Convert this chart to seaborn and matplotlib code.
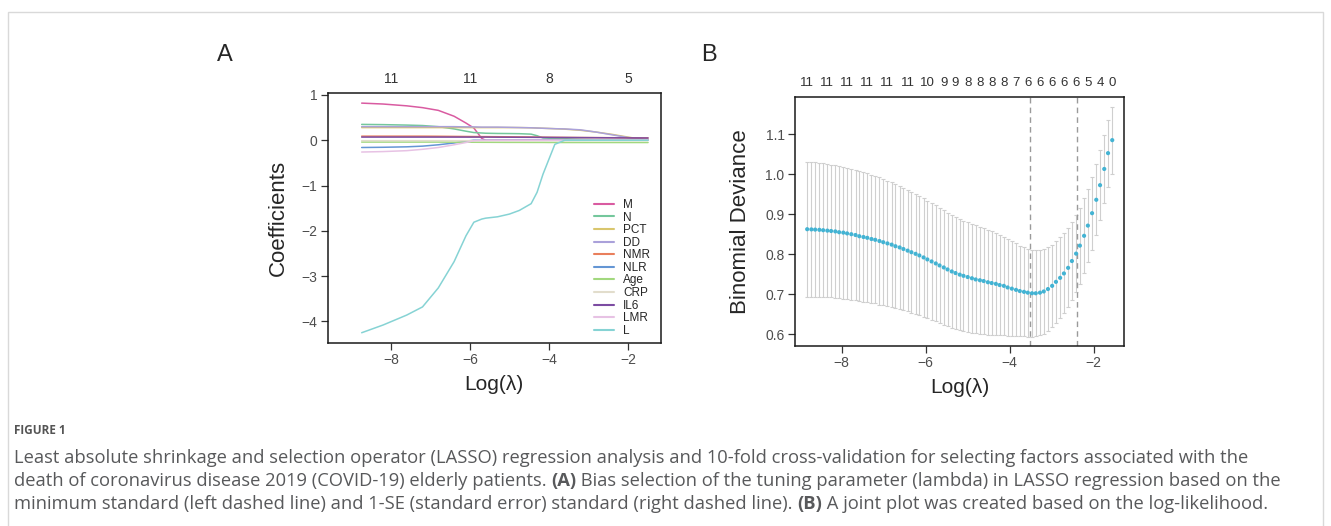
import numpy as np
import pandas as pd
import matplotlib
matplotlib.use("Agg")
import matplotlib.pyplot as plt
import seaborn as sns
from matplotlib.patches import Rectangle

# ---------------- panel A: LASSO coefficient paths ----------------
path_loglambda = [-8.74, -8.2, -7.6, -7.2, -6.8, -6.4, -6.1, -5.9, -5.7, -5.6,
                  -5.3, -5.0, -4.75, -4.45, -4.3, -4.15, -4.0, -3.85, -3.6,
                  -3.2, -2.8, -2.4, -2.0, -1.49]
coef_M = [0.82, 0.80, 0.76, 0.72, 0.66, 0.53, 0.38, 0.27, 0.04, 0.0,
          0.0, 0.0, 0.0, 0.0, 0.0, 0.0, 0.0, 0.0, 0.0, 0.0, 0.0, 0.0, 0.0, 0.0]
coef_N = [0.35, 0.345, 0.335, 0.325, 0.30, 0.25, 0.20, 0.17, 0.16, 0.155,
          0.15, 0.148, 0.145, 0.135, 0.10, 0.05, 0.045, 0.04, 0.035,
          0.02, 0.01, 0.0, 0.0, 0.0]
coef_PCT = [0.28, 0.28, 0.28, 0.28, 0.28, 0.28, 0.28, 0.28, 0.28, 0.28,
            0.28, 0.28, 0.28, 0.275, 0.27, 0.265, 0.26, 0.255, 0.245,
            0.22, 0.18, 0.13, 0.07, 0.0]
coef_DD = [0.30, 0.30, 0.30, 0.30, 0.30, 0.30, 0.295, 0.295, 0.29, 0.29,
           0.29, 0.285, 0.28, 0.275, 0.27, 0.265, 0.26, 0.255, 0.25,
           0.23, 0.18, 0.12, 0.06, 0.015]
coef_NMR = [0.09, 0.09, 0.09, 0.09, 0.088, 0.085, 0.083, 0.082, 0.08, 0.08,
            0.078, 0.076, 0.074, 0.072, 0.07, 0.068, 0.066, 0.065, 0.063,
            0.06, 0.058, 0.056, 0.054, 0.05]
coef_NLR = [-0.16, -0.155, -0.145, -0.13, -0.10, -0.06, -0.02, 0.0, 0.0, 0.0,
            0.0, 0.0, 0.0, 0.0, 0.0, 0.0, 0.0, 0.0, 0.0, 0.0, 0.0, 0.0, 0.0, 0.0]
coef_Age = [-0.04, -0.04, -0.04, -0.04, -0.04, -0.042, -0.043, -0.044, -0.045,
            -0.045, -0.046, -0.047, -0.047, -0.048, -0.048, -0.048, -0.049,
            -0.049, -0.05, -0.05, -0.05, -0.05, -0.05, -0.05]
coef_CRP = [-0.01, -0.01, -0.01, -0.01, -0.01, -0.01, -0.01, -0.01, -0.01,
            -0.01, -0.01, -0.01, -0.01, -0.01, -0.01, -0.01, -0.01, -0.008,
            -0.006, -0.003, 0.0, 0.0, 0.0, 0.0]
coef_IL6 = [0.07, 0.07, 0.07, 0.07, 0.07, 0.07, 0.07, 0.07, 0.07, 0.07,
            0.068, 0.067, 0.066, 0.065, 0.064, 0.063, 0.062, 0.061, 0.06,
            0.058, 0.056, 0.054, 0.052, 0.05]
coef_LMR = [-0.26, -0.25, -0.23, -0.20, -0.16, -0.10, -0.05, -0.01, 0.0, 0.0,
            0.0, 0.0, 0.0, 0.0, 0.0, 0.0, 0.0, 0.0, 0.0, 0.0, 0.0, 0.0, 0.0, 0.0]
coef_L = [-4.25, -4.08, -3.86, -3.68, -3.26, -2.68, -2.11, -1.81, -1.74, -1.72,
          -1.69, -1.63, -1.55, -1.40, -1.15, -0.75, -0.42, -0.09, 0.0,
          0.0, 0.0, 0.0, 0.0, 0.0]

var_names = ["M", "N", "PCT", "DD", "NMR", "NLR", "Age", "CRP", "IL6", "LMR", "L"]
var_colors = ["#d95ba1", "#74c79c", "#d9c66d", "#aaa1da", "#e97f5c", "#6496d4",
              "#a2d87e", "#e2ddcc", "#7c4ca2", "#e7c2e4", "#86d3d4"]
top_ticks_A = [-8, -6, -4, -2]
top_labels_A = ["11", "11", "8", "5"]

# ---------------- panel B: 10-fold CV binomial deviance ----------------
cv_loglambda = [-8.82, -8.72, -8.63, -8.53, -8.44, -8.34, -8.25, -8.15, -8.06, -7.96,
                -7.87, -7.77, -7.67, -7.58, -7.48, -7.39, -7.29, -7.20, -7.10, -7.01,
                -6.91, -6.81, -6.72, -6.62, -6.53, -6.43, -6.34, -6.24, -6.15, -6.05,
                -5.96, -5.86, -5.76, -5.67, -5.57, -5.48, -5.38, -5.29, -5.19, -5.10,
                -5.00, -4.90, -4.81, -4.71, -4.62, -4.52, -4.43, -4.33, -4.24, -4.14,
                -4.05, -3.95, -3.85, -3.76, -3.66, -3.57, -3.47, -3.38, -3.28, -3.19,
                -3.09, -2.99, -2.90, -2.80, -2.71, -2.61, -2.52, -2.42, -2.33, -2.23,
                -2.14, -2.04, -1.94, -1.85, -1.75, -1.66, -1.56]
cv_mean = [0.8625, 0.862, 0.8615, 0.861, 0.860, 0.859, 0.858, 0.857, 0.855, 0.854,
           0.852, 0.850, 0.848, 0.845, 0.843, 0.841, 0.838, 0.836, 0.833, 0.830,
           0.827, 0.824, 0.820, 0.817, 0.813, 0.809, 0.805, 0.801, 0.797, 0.792,
           0.787, 0.782, 0.777, 0.772, 0.767, 0.762, 0.757, 0.753, 0.749, 0.746,
           0.743, 0.740, 0.737, 0.735, 0.733, 0.730, 0.728, 0.726, 0.723, 0.721,
           0.717, 0.714, 0.711, 0.708, 0.706, 0.704, 0.7025, 0.7025, 0.704, 0.707,
           0.713, 0.721, 0.731, 0.741, 0.752, 0.766, 0.783, 0.8015, 0.8215, 0.846,
           0.8715, 0.9025, 0.936, 0.9725, 1.013, 1.0525, 1.085]
cv_se = [0.169, 0.169, 0.168, 0.168, 0.167, 0.167, 0.166, 0.166, 0.165, 0.165,
         0.164, 0.164, 0.163, 0.162, 0.162, 0.161, 0.160, 0.159, 0.159, 0.158,
         0.157, 0.156, 0.155, 0.154, 0.153, 0.152, 0.151, 0.150, 0.149, 0.148,
         0.147, 0.146, 0.145, 0.144, 0.143, 0.142, 0.141, 0.140, 0.139, 0.138,
         0.137, 0.136, 0.135, 0.134, 0.132, 0.131, 0.129, 0.127, 0.125, 0.123,
         0.121, 0.118, 0.116, 0.113, 0.111, 0.110, 0.109, 0.108, 0.107, 0.106,
         0.104, 0.103, 0.102, 0.101, 0.100, 0.099, 0.098, 0.097, 0.095, 0.094,
         0.092, 0.091, 0.089, 0.087, 0.085, 0.084, 0.084]
nz_index = [0, 5, 10, 15, 20, 25, 30, 34, 37, 40, 43, 46, 49, 52, 55, 58, 61,
            64, 67, 70, 73, 76]
nz_labels = ["11", "11", "11", "11", "11", "11", "10", "9", "9", "8", "8", "8",
             "8", "7", "6", "6", "6", "6", "6", "5", "4", "0"]
lambda_min_log = -3.52
lambda_1se_log = -2.41

caption_lines = [
    [("Least absolute shrinkage and selection operator (LASSO) regression analysis and "
      "10-fold cross-validation for selecting factors associated with the", False)],
    [("death of coronavirus disease 2019 (COVID-19) elderly patients. ", False),
     ("(A)", True),
     (" Bias selection of the tuning parameter (lambda) in LASSO regression based on the", False)],
    [("minimum standard (left dashed line) and 1-SE (standard error) standard "
      "(right dashed line). ", False),
     ("(B)", True),
     (" A joint plot was created based on the log-likelihood.", False)],
]

# ------------------------------------------------------------------
W, H = 1331, 526
sns.set_style("ticks")
plt.rcParams["font.family"] = ["Liberation Sans", "DejaVu Sans"]

fig = plt.figure(figsize=(W / 100, H / 100), dpi=100)


def px_axes(left, top, right, bottom):
    return fig.add_axes([left / W, 1 - bottom / H, (right - left) / W, (bottom - top) / H])


def style_box(ax):
    for s in ax.spines.values():
        s.set_visible(True)
        s.set_color("#1a1a1a")
        s.set_linewidth(1.1)
    ax.tick_params(axis="both", direction="out", length=5, width=0.9,
                   color="#333333", labelsize=10, labelcolor="#4d4d4d", pad=2.5)
    ax.grid(False)


# ---- panel A ----
axA = px_axes(327.7, 92.7, 660.7, 342.7)
long_rows = []
for name, vals in zip(var_names, [coef_M, coef_N, coef_PCT, coef_DD, coef_NMR, coef_NLR,
                                   coef_Age, coef_CRP, coef_IL6, coef_LMR, coef_L]):
    for x, y in zip(path_loglambda, vals):
        long_rows.append({"loglambda": x, "coef": y, "var": name})
paths = pd.DataFrame(long_rows)
sns.lineplot(data=paths, x="loglambda", y="coef", hue="var", hue_order=var_names,
             palette=dict(zip(var_names, var_colors)), linewidth=1.1, ax=axA,
             estimator=None, sort=False)
axA.set_xlim(-9.6, -1.17)
axA.set_ylim(-4.47, 1.05)
axA.set_xticks([-8, -6, -4, -2])
axA.set_yticks([-4, -3, -2, -1, 0, 1])
style_box(axA)
axA.set_xlabel("Log(λ)", fontsize=15, labelpad=6)
axA.set_ylabel("Coefficients", fontsize=16, labelpad=9)
handles, labels = axA.get_legend_handles_labels()
leg = axA.legend(handles, labels, loc="upper left", bbox_to_anchor=(0.80, 0.575),
                 frameon=False, fontsize=8.5, labelspacing=0.05, handlelength=1.7,
                 handletextpad=0.75, borderpad=0, borderaxespad=0)
for line in leg.get_lines():
    line.set_linewidth(1.5)
topA = axA.secondary_xaxis("top")
topA.set_xticks(top_ticks_A)
topA.set_xticklabels(top_labels_A)
topA.tick_params(length=0, labelsize=10, labelcolor="#333333", pad=4.8)
topA.spines["top"].set_visible(False)

# ---- panel B ----
axB = px_axes(795, 97.3, 1124, 345.7)
cv = pd.DataFrame({"loglambda": cv_loglambda, "mean": cv_mean, "se": cv_se})
axB.errorbar(cv["loglambda"], cv["mean"], yerr=cv["se"], fmt="none",
             ecolor="#cfcfcf", elinewidth=0.8, capsize=1.6, capthick=0.8, zorder=1)
sns.scatterplot(data=cv, x="loglambda", y="mean", color="#43b3d3", s=9,
                edgecolor="none", ax=axB, zorder=3)
for v in [lambda_min_log, lambda_1se_log]:
    axB.axvline(v, color="#9a9a9a", linestyle=(0, (4, 3)), linewidth=1.0, zorder=2)
axB.set_xlim(-9.11, -1.28)
axB.set_ylim(0.5715, 1.192)
axB.set_xticks([-8, -6, -4, -2])
axB.set_yticks([0.6, 0.7, 0.8, 0.9, 1.0, 1.1])
axB.set_yticklabels(["0.6", "0.7", "0.8", "0.9", "1.0", "1.1"])
style_box(axB)
axB.set_xlabel("Log(λ)", fontsize=15, labelpad=6)
axB.set_ylabel("Binomial Deviance", fontsize=16, labelpad=10)
topB = axB.secondary_xaxis("top")
topB.set_xticks([cv_loglambda[i] for i in nz_index])
topB.set_xticklabels(nz_labels)
topB.tick_params(length=0, labelsize=9.5, labelcolor="#333333", pad=6)
topB.spines["top"].set_visible(False)

# panel letters
fig.text(225 / W, 1 - 55 / H, "A", fontsize=17, ha="center", va="center")
fig.text(709 / W, 1 - 55 / H, "B", fontsize=17, ha="center", va="center")

# ---- frame and caption ----
fig.patches.append(Rectangle((8 / W, -0.02), 1315 / W, 1 - 12 / H + 0.02,
                             transform=fig.transFigure, fill=False,
                             edgecolor="#d9d9d9", linewidth=1.0))
cap_font = ["Open Sans", "DejaVu Sans"]
fig.text(14 / W, 1 - 431 / H, "FIGURE 1", fontsize=8.5, fontweight="bold",
         color="#555555", family=cap_font, va="center")

renderer = fig.canvas.get_renderer()
probe = fig.text(0, 0, caption_lines[0][0][0], fontsize=10, family=cap_font)
w10 = probe.get_window_extent(renderer=renderer).width
probe.remove()
cap_size = 10 * (1239 / w10)

for line, y in zip(caption_lines, [458, 481, 504]):
    x = 14
    for txt, bold in line:
        t = fig.text(x / W, 1 - y / H, txt, fontsize=cap_size, color="#58595b",
                     fontweight="bold" if bold else "normal", family=cap_font,
                     va="center", ha="left")
        x += t.get_window_extent(renderer=renderer).width

fig.savefig("out.png", dpi=100)
